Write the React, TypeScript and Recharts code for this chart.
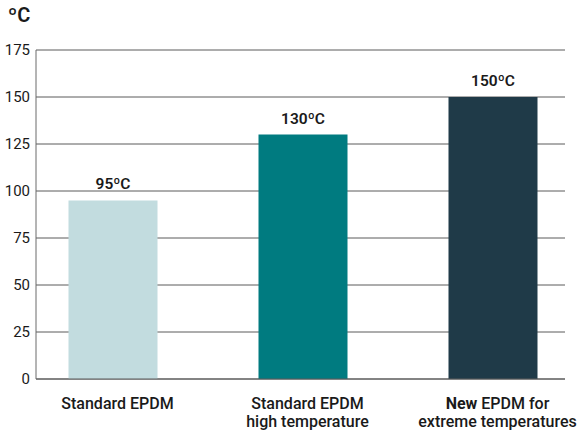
import React from "react"
import { BarChart, Bar, XAxis, YAxis, CartesianGrid, Cell, LabelList } from "recharts"

const categories = ["Standard EPDM", "Standard EPDM\nhigh temperature", "New EPDM for\nextreme temperatures"]
const temps = [95, 130, 150]
const barColors = ["#c2dcdf", "#007b80", "#1f3a48"]
const yTicks = [0, 25, 50, 75, 100, 125, 150, 175]

const data = categories.map((name, i) => ({ name, temp: temps[i] }))

const font = "Roboto, 'Noto Sans', sans-serif"

function CategoryTick(props: any) {
  const { x, y, payload } = props
  const lines: string[] = String(payload.value).split("\n")
  const cx = x + 5
  return (
    <text x={cx} y={y} textAnchor="middle" fontFamily={font} fontSize={16} fontWeight={500} fill="#1a1a1a">
      {lines.map((line, i) => {
        const bold = line.startsWith("New ")
        return (
          <tspan key={i} x={cx} dy={i === 0 ? 22 : 17.5}>
            {bold ? (
              <>
                <tspan fontWeight={700}>New</tspan>
                {line.slice(3)}
              </>
            ) : (
              line
            )}
          </tspan>
        )
      })}
    </text>
  )
}

export default function App() {
  return (
    <div style={{ position: "absolute", left: 0, top: 0, width: 577, height: 430, background: "#fff", fontFamily: font }}>
      <div style={{ position: "absolute", left: 8, top: 3, fontSize: 20, fontWeight: 600, color: "#1a1a1a" }}>ºC</div>
      <BarChart width={577} height={430} data={data} margin={{ top: 50, right: 12, bottom: 11, left: 0 }}>
        <CartesianGrid vertical={false} stroke="#5a5a5a" strokeWidth={1} />
        <XAxis
          dataKey="name"
          height={40}
          padding={{ left: -18.5, right: -22.5 }}
          axisLine={{ stroke: "#5a5a5a" }}
          tickLine={false}
          interval={0}
          tick={<CategoryTick />}
        />
        <YAxis
          width={36}
          domain={[0, 175]}
          ticks={yTicks}
          axisLine={{ stroke: "#6a6a6a" }}
          tickLine={false}
          tick={{ fontFamily: font, fontSize: 15, fill: "#1a1a1a" }}
          tickMargin={0}
          tickSize={0}
          dx={-6}
        />
        <YAxis
          yAxisId="right"
          orientation="right"
          width={0}
          domain={[0, 175]}
          axisLine={{ stroke: "#6a6a6a" }}
          tickLine={false}
          tick={false}
        />
        <Bar dataKey="temp" barSize={89} isAnimationActive={false}>
          {data.map((_, i) => (
            <Cell key={i} fill={barColors[i]} />
          ))}
          <LabelList
            dataKey="temp"
            position="top"
            offset={11}
            formatter={(v: any) => `${v}ºC`}
            style={{ fontFamily: font, fontSize: 15.5, fontWeight: 600, fill: "#1a1a1a" }}
          />
        </Bar>
      </BarChart>
    </div>
  )
}
